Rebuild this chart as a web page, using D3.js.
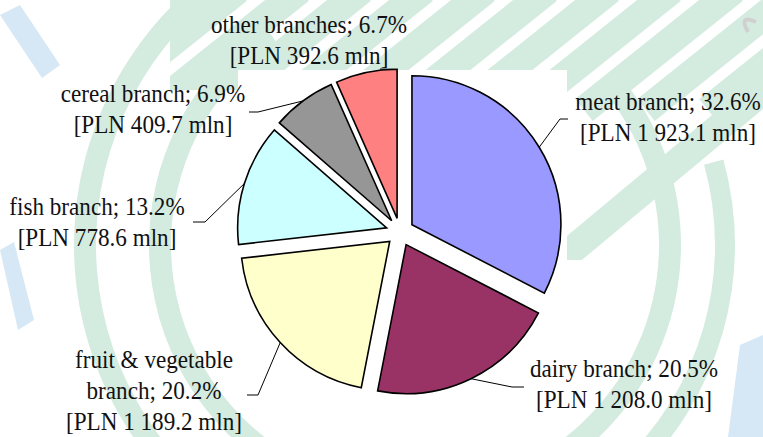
<!DOCTYPE html>
<html>
<head>
<meta charset="utf-8">
<script src="https://cdn.jsdelivr.net/npm/d3@7"></script>
<style>
  html, body { margin: 0; padding: 0; background: #fff; }
  svg { display: block; }
</style>
</head>
<body>
<script>
// data
var categories = ["meat branch", "dairy branch", "fruit & vegetable\nbranch", "fish branch", "cereal branch", "other branches"];
var values = [1923.1, 1208.0, 1189.2, 778.6, 409.7, 392.6];
var colors = ["#9999ff", "#993366", "#ffffcc", "#ccffff", "#969696", "#ff8080"];

// label layout (centre x, first baseline y)
var labelPos = [[668, 110], [624, 377], [154, 368], [97, 215], [153, 102], [309, 33]];
// leader elbows / ends and position inside the slice (0..1)
var leaders = [
    { t: 0.5, elbow: [560, 119], end: [568, 119] },
    { t: 0.5, elbow: [512, 387], end: [524, 387] },
    { t: 0.5, elbow: [258, 395], end: [247, 395] },
    { t: 0.5, elbow: [205, 222], end: [193, 222] },
    { t: 0.5, elbow: [258, 112], end: [249, 112] },
    { t: 0.96, elbow: [380, 69], end: [380, 69] }
];

var width = 763, height = 437;
var cx = 400, cy = 232, r = 149, explode = 14;

var svg = d3.select("body").append("svg").attr("width", width).attr("height", height);

// watermark background
var bg = svg.append("g");
var green = "#d4ebe0", blue = "#d6e8f6";
bg.append("rect").attr("width", width).attr("height", height).attr("fill", "#fff");

var clip = svg.append("defs").append("clipPath").attr("id", "stripes");
clip.append("path").attr("d", "M170,0 L763,0 L763,260 L560,260 L560,90 L170,90 Z");
var sg = bg.append("g").attr("clip-path", "url(#stripes)");
d3.range(-2, 12).forEach(function (i) {
    var x0 = 150 + i * 62;
    sg.append("path")
        .attr("d", "M" + x0 + ",110 L" + (x0 + 150) + ",-10")
        .attr("stroke", green).attr("stroke-width", 28).attr("fill", "none");
});
sg.append("path").attr("d", "M560,260 L800,60").attr("stroke", green).attr("stroke-width", 28).attr("fill", "none");

var ringArc = d3.arc();
[[255, 22, -2.6, -0.6], [255, 22, 0.9, 2.5], [330, 22, -2.4, -0.4], [310, 20, 1.3, 2.4]].forEach(function (d) {
    bg.append("path")
        .attr("transform", "translate(415,245)")
        .attr("d", ringArc({ innerRadius: d[0] - d[1] / 2, outerRadius: d[0] + d[1] / 2, startAngle: d[2], endAngle: d[3] }))
        .attr("fill", green);
});
bg.append("path").attr("d", "M0,15 L20,5 L60,65 L42,78 Z").attr("fill", blue);
bg.append("path").attr("d", "M0,250 L14,242 L34,320 L18,330 Z").attr("fill", blue);
bg.append("path").attr("d", "M740,345 L763,335 L763,437 L728,437 Z").attr("fill", blue);
bg.append("path").attr("d", "M748,32 Q738,14 756,22").attr("stroke", "#d0d0d0").attr("stroke-width", 4).attr("fill", "none");

// white plot area
svg.append("rect").attr("x", 238).attr("y", 70).attr("width", 329).attr("height", 329).attr("fill", "#fff");

var total = d3.sum(values);
var pie = d3.pie().sort(null).value(function (d) { return d; })(values);
var arc = d3.arc().innerRadius(0).outerRadius(r);

var fmt = d3.formatLocale({ decimal: ".", thousands: " ", grouping: [3], currency: ["", ""] }).format(",.1f");

function offsetOf(d) {
    var a = (d.startAngle + d.endAngle) / 2;
    return [explode * Math.sin(a), -explode * Math.cos(a)];
}

var slices = svg.append("g").attr("transform", "translate(" + cx + "," + cy + ")");
slices.selectAll("path")
    .data(pie)
    .enter()
    .append("path")
    .attr("transform", function (d) { var o = offsetOf(d); return "translate(" + o[0] + "," + o[1] + ")"; })
    .attr("d", arc)
    .attr("fill", function (d, i) { return colors[i]; })
    .attr("stroke", "#000")
    .attr("stroke-width", 1.6)
    .attr("stroke-linejoin", "miter");

// leader lines
svg.append("g").selectAll("path")
    .data(pie)
    .enter()
    .append("path")
    .attr("d", function (d, i) {
        var o = offsetOf(d);
        var a = d.startAngle + (d.endAngle - d.startAngle) * leaders[i].t;
        var sx = cx + o[0] + r * Math.sin(a), sy = cy + o[1] - r * Math.cos(a);
        return d3.line()([[sx, sy], leaders[i].elbow, leaders[i].end]);
    })
    .attr("fill", "none")
    .attr("stroke", "#000")
    .attr("stroke-width", 1);

// labels
var lab = svg.append("g").selectAll("text")
    .data(pie)
    .enter()
    .append("text")
    .attr("font-family", "'Liberation Serif', 'Times New Roman', serif")
    .attr("font-size", 26)
    .attr("fill", "#111")
    .attr("text-anchor", "middle")
    .attr("transform", function (d, i) { return "translate(" + labelPos[i][0] + "," + labelPos[i][1] + ") scale(0.89,1)"; });

lab.each(function (d, i) {
    var pct = (values[i] / total * 100).toFixed(1) + "%";
    var lines = (categories[i] + "; " + pct).split("\n");
    lines.push("[PLN " + fmt(values[i]) + " mln]");
    var t = d3.select(this);
    lines.forEach(function (s, k) {
        t.append("tspan").attr("x", 0).attr("y", k * 31).text(s);
    });
});
</script>
</body>
</html>
